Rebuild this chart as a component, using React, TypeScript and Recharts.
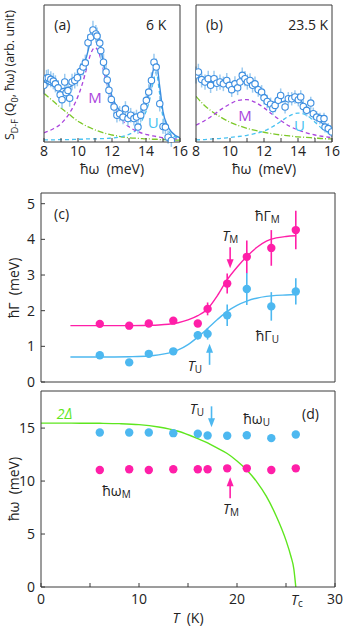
import React from 'react';
import { ComposedChart, Line, Scatter, XAxis, YAxis, ErrorBar, ReferenceDot } from 'recharts';

// panel (a): 6 K spectrum
const aEnergy = [8.0, 8.15, 8.25, 8.4, 8.55, 8.67, 8.83, 8.95, 9.06, 9.22, 9.3, 9.41, 9.51, 9.65, 9.81, 9.96, 10.16, 10.3, 10.43, 10.59, 10.75, 10.88, 11.05, 11.12, 11.28, 11.34, 11.5, 11.65, 11.72, 11.82, 11.96, 12.12, 12.29, 12.45, 12.65, 12.79, 12.94, 13.1, 13.29, 13.44, 13.53, 13.69, 13.88, 14.02, 14.16, 14.32, 14.47, 14.6, 14.81, 15.0, 15.14, 15.3, 15.49];
const aIntensity = [1.86, 2.1, 2.11, 2.06, 2.0, 1.91, 1.78, 1.55, 1.39, 1.97, 1.62, 1.69, 1.44, 1.97, 2.02, 2.11, 2.32, 2.46, 2.6, 3.26, 3.44, 3.68, 3.55, 3.48, 3.25, 3.0, 2.62, 2.3, 2.04, 1.7, 1.4, 1.15, 0.88, 0.93, 0.82, 1.09, 0.77, 0.88, 0.77, 0.82, 0.49, 0.88, 1.15, 1.37, 1.64, 2.02, 2.62, 2.46, 1.26, 0.51, 0.49, 0.16, 0.05];
const aError = [0.28, 0.27, 0.28, 0.26, 0.27, 0.28, 0.26, 0.27, 0.28, 0.27, 0.26, 0.27, 0.28, 0.27, 0.26, 0.28, 0.27, 0.28, 0.27, 0.28, 0.29, 0.3, 0.29, 0.28, 0.29, 0.28, 0.27, 0.27, 0.26, 0.26, 0.25, 0.25, 0.24, 0.25, 0.24, 0.25, 0.24, 0.24, 0.23, 0.24, 0.23, 0.24, 0.25, 0.25, 0.26, 0.27, 0.28, 0.28, 0.26, 0.24, 0.23, 0.22, 0.21];
const aFitE = [8, 8.5, 9, 9.5, 10, 10.25, 10.5, 10.75, 11, 11.25, 11.5, 11.75, 12, 12.5, 13, 13.5, 13.8, 14, 14.2, 14.4, 14.6, 14.8, 15, 15.25, 15.5, 16];
const aFitTotal = [1.97, 1.85, 1.75, 1.8, 2.13, 2.4, 2.8, 3.33, 3.6, 3.35, 2.6, 2.0, 1.5, 0.98, 0.8, 0.82, 1.05, 1.3, 1.7, 2.3, 2.65, 1.85, 1.0, 0.55, 0.33, 0.14];
const aFitM = [0.3, 0.42, 0.6, 0.95, 1.5, 1.9, 2.4, 2.9, 3.1, 2.9, 2.35, 1.8, 1.35, 0.8, 0.5, 0.35, 0.28, 0.25, 0.22, 0.2, 0.18, 0.16, 0.14, 0.12, 0.11, 0.09];
const aFitU = [0.07, 0.07, 0.08, 0.08, 0.09, 0.09, 0.1, 0.1, 0.1, 0.11, 0.11, 0.12, 0.13, 0.17, 0.25, 0.45, 0.75, 1.0, 1.35, 1.9, 2.3, 1.6, 0.8, 0.42, 0.25, 0.12];
const aFitBg = [1.6, 1.36, 1.12, 0.9, 0.68, 0.6, 0.52, 0.46, 0.4, 0.35, 0.3, 0.26, 0.23, 0.18, 0.14, 0.12, 0.11, 0.1, 0.1, 0.09, 0.09, 0.08, 0.08, 0.08, 0.07, 0.06];

// panel (b): 23.5 K spectrum
const bEnergy = [8.0, 8.14, 8.33, 8.53, 8.72, 8.86, 9.06, 9.22, 9.41, 9.61, 9.81, 9.96, 10.1, 10.29, 10.45, 10.59, 10.72, 10.88, 11.02, 11.18, 11.33, 11.47, 11.66, 11.86, 12.0, 12.19, 12.39, 12.52, 12.65, 12.84, 12.98, 13.24, 13.43, 13.63, 13.82, 14.02, 14.16, 14.31, 14.51, 14.75, 14.9, 15.1, 15.29, 15.53, 15.59, 15.78, 15.98];
const bIntensity = [2.2, 2.3, 2.05, 1.97, 2.08, 1.86, 2.08, 1.93, 1.97, 1.91, 2.02, 1.86, 1.72, 1.91, 1.78, 1.97, 2.19, 2.08, 1.97, 2.02, 1.86, 1.91, 1.72, 1.64, 1.45, 1.33, 1.24, 1.1, 1.2, 1.37, 1.53, 1.15, 1.42, 1.42, 1.48, 1.39, 1.48, 1.17, 1.04, 1.28, 0.93, 0.82, 0.77, 0.77, 0.49, 0.44, 0.33];
const bError = [0.28, 0.27, 0.26, 0.25, 0.26, 0.25, 0.26, 0.25, 0.25, 0.24, 0.25, 0.24, 0.24, 0.25, 0.24, 0.25, 0.26, 0.25, 0.25, 0.24, 0.24, 0.24, 0.23, 0.23, 0.22, 0.22, 0.22, 0.21, 0.22, 0.22, 0.23, 0.21, 0.22, 0.22, 0.22, 0.22, 0.22, 0.21, 0.2, 0.21, 0.2, 0.19, 0.19, 0.19, 0.18, 0.18, 0.17];
const bFitE = [8, 8.5, 9, 9.5, 10, 10.5, 11, 11.5, 12, 12.5, 13, 13.5, 14, 14.5, 15, 15.5, 16];
const bFitTotal = [2.15, 2.05, 1.97, 1.94, 1.93, 1.99, 2.02, 1.91, 1.59, 1.31, 1.31, 1.39, 1.39, 1.15, 0.82, 0.58, 0.33];
const bFitM = [0.55, 0.7, 0.88, 1.08, 1.25, 1.37, 1.39, 1.3, 1.12, 0.9, 0.7, 0.52, 0.4, 0.3, 0.23, 0.18, 0.14];
const bFitU = [0.07, 0.08, 0.1, 0.12, 0.15, 0.18, 0.22, 0.28, 0.36, 0.5, 0.68, 0.86, 0.95, 0.88, 0.65, 0.4, 0.24];
const bFitBg = [1.5, 1.2, 0.98, 0.8, 0.65, 0.54, 0.45, 0.38, 0.32, 0.27, 0.23, 0.2, 0.17, 0.15, 0.13, 0.11, 0.1];

// panels (c), (d): temperature dependence
const temps = [6, 9, 11, 13.5, 16, 17, 19, 21, 23.5, 26];
const gammaM = [1.63, 1.58, 1.64, 1.72, 1.64, 2.05, 2.76, 3.51, 3.76, 4.26];
const gammaMErr = [0.06, 0.1, 0.07, 0.07, 0.08, 0.18, 0.28, 0.46, 0.5, 0.54];
const gammaU = [0.75, 0.55, 0.79, 0.86, 1.31, 1.35, 1.87, 2.61, 2.12, 2.54];
const gammaUErr = [0.04, 0.03, 0.04, 0.05, 0.12, 0.16, 0.3, 0.45, 0.4, 0.37];
const fitT = [3, 6, 9, 11, 12, 13, 14, 15, 16, 17, 18, 19, 20, 21, 22, 23, 24, 25, 26];
const fitGammaM = [1.58, 1.58, 1.58, 1.59, 1.6, 1.62, 1.66, 1.74, 1.86, 2.05, 2.42, 2.87, 3.22, 3.52, 3.77, 3.95, 4.04, 4.08, 4.1];
const fitGammaU = [0.7, 0.7, 0.71, 0.73, 0.76, 0.81, 0.9, 1.05, 1.26, 1.5, 1.75, 1.98, 2.15, 2.27, 2.35, 2.4, 2.43, 2.44, 2.45];
const omegaU = [14.58, 14.58, 14.58, 14.52, 14.46, 14.3, 14.27, 14.33, 14.05, 14.4];
const omegaM = [11.05, 11.11, 11.05, 11.11, 11.11, 11.11, 11.2, 11.2, 11.05, 11.2];
const gapT = [0, 2, 4, 6, 8, 10, 12, 14, 16, 17, 18, 19, 20, 21, 22, 23, 24, 25, 25.5, 25.8, 26];
const gap2D = [15.47, 15.47, 15.46, 15.45, 15.42, 15.33, 15.1, 14.7, 14.0, 13.6, 13.1, 12.6, 11.9, 11.05, 9.95, 8.55, 6.7, 4.4, 2.9, 1.7, 0];

const rows = (xs: number[], ys: number[], es?: number[]) => xs.map((x, i) => ({ x, y: ys[i], e: es ? es[i] : 0 }));

const FONT = '"Open Sans", "Noto Sans", sans-serif';
const AX = { stroke: '#3a3a3a', strokeWidth: 1 };
const TICK = { fontSize: 14, fill: '#222', fontFamily: FONT };
const BLUE = '#3c8ee0';
const ERR = '#9ccbf0';
const PURPLE = '#aa44dd';
const GREEN_DD = '#7cc828';
const CYAN_D = '#48c2f2';
const MAGENTA = '#ff1fa8';
const CYAN = '#4db8f0';
const GREEN = '#5ee61e';
const GAP = '\u00a0\u00a0';

// axis boxes are 1px thick (a 0px axis is not drawn); margins below are reduced by 1 to compensate
const frameAxes = (xd: number[], xt: number[], yd: number[], yt: number[], xLab: any, yLab: any, xMargin: number) => [
  <XAxis key="xb" type="number" dataKey="x" domain={xd} ticks={xt} interval={0} allowDataOverflow height={1}
    tickSize={-4} tickMargin={xMargin} tick={xLab ? TICK : false} tickFormatter={xLab || undefined} axisLine={AX} tickLine={AX} />,
  <XAxis key="xt" xAxisId="top" orientation="top" type="number" domain={xd} ticks={xt} interval={0} allowDataOverflow
    height={1} tickSize={-4} tick={false} axisLine={AX} tickLine={AX} />,
  <YAxis key="yl" type="number" dataKey="y" domain={yd} ticks={yt} interval={0} allowDataOverflow width={1}
    tickSize={-4} tickMargin={10} tick={yLab ? TICK : false} axisLine={AX} tickLine={AX} />,
  <YAxis key="yr" yAxisId="right" orientation="right" type="number" domain={yd} ticks={yt} interval={0} allowDataOverflow
    width={1} tickSize={-4} tick={false} axisLine={AX} tickLine={AX} />,
];

const openDot = (p: any) => <circle cx={p.cx} cy={p.cy} r={3.2} fill="#fff" stroke={BLUE} strokeWidth={1.1} />;
const fullDot = (color: string) => (p: any) => <circle cx={p.cx} cy={p.cy} r={4.2} fill={color} />;

// text / arrow annotations placed in data coordinates
const note = (key: string, x: number, y: number, main: string, opts: any = {}) => (
  <ReferenceDot key={key} x={x} y={y} r={0} ifOverflow="visible"
    shape={(p: any) => (
      <text x={p.cx} y={p.cy + (opts.dy || 0)} textAnchor="middle" dominantBaseline="central" fill={opts.color || '#222'}
        fontSize={opts.size || 14} fontFamily={FONT}>
        <tspan fontStyle={opts.italic ? 'italic' : 'normal'}>{main}</tspan>
        {opts.sub && <tspan dy={4} fontSize={10}>{opts.sub}</tspan>}
      </text>
    )} />
);
const arrow = (key: string, x: number, y: number, dir: number, color: string) => (
  <ReferenceDot key={key} x={x} y={y} r={0} ifOverflow="visible"
    shape={(p: any) => (
      <g>
        <line x1={p.cx} y1={p.cy - dir * 21} x2={p.cx} y2={p.cy - dir * 8} stroke={color} strokeWidth={1.6} />
        <polygon points={`${p.cx - 3.5},${p.cy - dir * 9} ${p.cx + 3.5},${p.cy - dir * 9} ${p.cx},${p.cy}`} fill={color} />
      </g>
    )} />
);

const line = (data: any[], color: string, dash?: string, width = 1.3) => (
  <Line data={data} dataKey="y" type="monotone" dot={false} stroke={color} strokeWidth={width}
    strokeDasharray={dash} isAnimationActive={false} activeDot={false} />
);

const eTicks = [8, 9, 10, 11, 12, 13, 14, 15, 16];
const eFmt = (v: number) => (v % 2 === 0 ? String(v) : '');
const tTicks = [0, 5, 10, 15, 20, 25, 30];

const Spectrum = ({ left, pts, total, m, u, bg, tag, temp, mPos, uPos }: any) => (
  <ComposedChart width={343} height={180} margin={{ top: 4, left: left - 1, right: 343 - left - 136 - 1, bottom: 37 }}>
    {frameAxes([8, 16], eTicks, [0, 4.5], [0, 1, 2, 3, 4], eFmt, null, 8)}
    {line(bg, GREEN_DD, '6 2 1 2')}
    {line(u, CYAN_D, '4 3')}
    {line(m, PURPLE, '4 3')}
    <Scatter data={pts} dataKey="y" shape={openDot} isAnimationActive={false}>
      <ErrorBar dataKey="e" direction="y" width={0} stroke={ERR} strokeWidth={1.5} />
    </Scatter>
    {line(total, BLUE, undefined, 1.4)}
    {note('tag', 9.08, 3.88, tag)}
    {note('temp', 14.6, 3.88, temp)}
    {note('m', mPos[0], mPos[1], 'M', { color: PURPLE, size: 15 })}
    {note('u', uPos[0], uPos[1], 'U', { color: CYAN_D, size: 15 })}
  </ComposedChart>
);

const abs = (l: number, t: number, extra: any = {}) => ({ position: 'absolute' as const, left: l, top: t, ...extra });
const vTitle = (cx: number, cy: number, size = 14) => abs(cx, cy, { transform: 'translate(-50%,-50%) rotate(-90deg)', whiteSpace: 'nowrap', fontSize: size });
const hTitle = (cx: number, cy: number) => abs(cx, cy, { transform: 'translate(-50%,-50%)', whiteSpace: 'nowrap', fontSize: 14 });

export default function App() {
  return (
    <div style={{ position: 'absolute', left: 0, top: 0, width: 343, height: 627, background: '#fff', fontFamily: FONT, color: '#222' }}>
      <div style={abs(0, 0)}>
        <Spectrum left={44} pts={rows(aEnergy, aIntensity, aError)} total={rows(aFitE, aFitTotal)} m={rows(aFitE, aFitM)}
          u={rows(aFitE, aFitU)} bg={rows(aFitE, aFitBg)} tag="(a)" temp="6 K" mPos={[11.0, 1.48]} uPos={[14.43, 0.67]} />
      </div>
      <div style={abs(0, 0)}>
        <Spectrum left={196} pts={rows(bEnergy, bIntensity, bError)} total={rows(bFitE, bFitTotal)} m={rows(bFitE, bFitM)}
          u={rows(bFitE, bFitU)} bg={rows(bFitE, bFitBg)} tag="(b)" temp="23.5 K" mPos={[10.88, 0.89]} uPos={[14.08, 0.56]} />
      </div>
      <div style={vTitle(11, 75, 12.5)}>S<sub style={{ fontSize: 9 }}>D-F</sub> (Q<sub style={{ fontSize: 9 }}>0</sub>, ħω) (arb. unit)</div>
      <div style={hTitle(112, 168)}>ħω{GAP}(meV)</div>
      <div style={hTitle(264, 168)}>ħω{GAP}(meV)</div>

      <div style={abs(0, 185)}>
        <ComposedChart width={343} height={210} margin={{ top: 7, left: 40, right: 7, bottom: 12 }}>
          {frameAxes([0, 30], tTicks, [0, 5.3], [0, 1, 2, 3, 4, 5], null, true, 8)}
          {line(rows(fitT, fitGammaM), MAGENTA, undefined, 1.4)}
          {line(rows(fitT, fitGammaU), CYAN, undefined, 1.4)}
          <Scatter data={rows(temps, gammaM, gammaMErr)} dataKey="y" shape={fullDot(MAGENTA)} isAnimationActive={false}>
            <ErrorBar dataKey="e" direction="y" width={0} stroke={MAGENTA} strokeWidth={1.6} />
          </Scatter>
          <Scatter data={rows(temps, gammaU, gammaUErr)} dataKey="y" shape={fullDot(CYAN)} isAnimationActive={false}>
            <ErrorBar dataKey="e" direction="y" width={0} stroke={CYAN} strokeWidth={1.6} />
          </Scatter>
          {note('c', 2.1, 4.74, '(c)')}
          {note('gm', 23.1, 4.69, 'ħΓ', { sub: 'M' })}
          {note('tm', 19.3, 4.12, 'T', { sub: 'M', italic: true })}
          {note('gu', 23.1, 1.32, 'ħΓ', { sub: 'U' })}
          {note('tu', 15.7, 0.48, 'T', { sub: 'U', italic: true })}
          {arrow('am', 19.3, 3.19, 1, MAGENTA)}
          {arrow('au', 17.2, 1.07, -1, CYAN)}
        </ComposedChart>
      </div>
      <div style={vTitle(13, 288)}>ħΓ{GAP}(meV)</div>

      <div style={abs(0, 385)}>
        <ComposedChart width={343} height={242} margin={{ top: 5, left: 40, right: 7, bottom: 39 }}>
          {frameAxes([0, 30], tTicks, [0, 18.5], [0, 5, 10, 15], (v: number) => (v % 10 === 0 ? String(v) : ''), true, 11)}
          {line(rows(gapT, gap2D), GREEN, undefined, 1.4)}
          <Scatter data={rows(temps, omegaU)} dataKey="y" shape={fullDot(CYAN)} isAnimationActive={false} />
          <Scatter data={rows(temps, omegaM)} dataKey="y" shape={fullDot(MAGENTA)} isAnimationActive={false} />
          {note('2d', 2.4, 16.4, '2Δ', { color: GREEN, italic: true })}
          {note('tu', 15.9, 16.9, 'T', { sub: 'U', italic: true })}
          {note('wu', 22.0, 15.95, 'ħω', { sub: 'U' })}
          {note('d', 27.5, 16.4, '(d)')}
          {note('wm', 7.7, 9.15, 'ħω', { sub: 'M' })}
          {note('tm', 19.4, 7.46, 'T', { sub: 'M', italic: true })}
          {note('tc', 26.1, 0, 'T', { sub: 'c', italic: true, dy: 12 })}
          {arrow('au', 17.4, 15.07, 1, CYAN)}
          {arrow('am', 19.3, 10.35, -1, MAGENTA)}
        </ComposedChart>
      </div>
      <div style={vTitle(13, 489)}>ħω{GAP}(meV)</div>
      <div style={hTitle(188, 617)}><i>T</i>{GAP}(K)</div>
    </div>
  );
}
